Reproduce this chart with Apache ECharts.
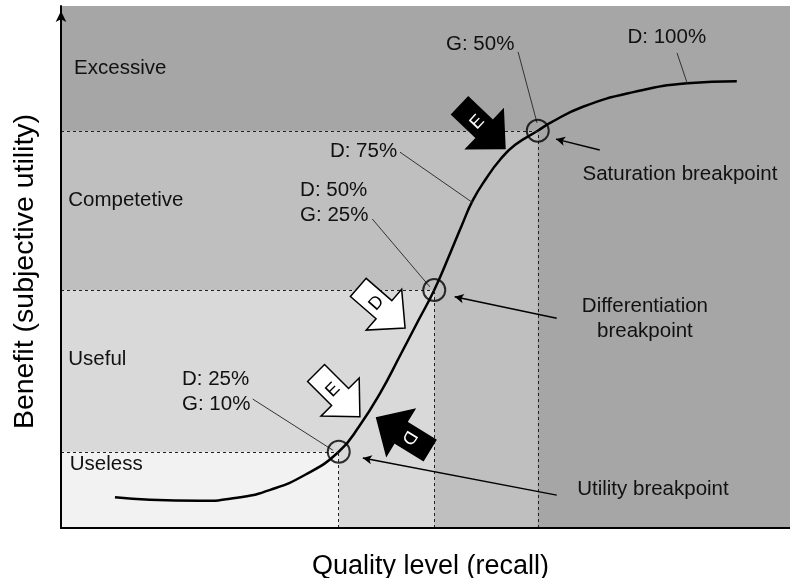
<!DOCTYPE html>
<html>
<head>
<meta charset="utf-8">
<script src="https://cdn.jsdelivr.net/npm/echarts@6/dist/echarts.min.js"></script>
<style>
  html, body { margin: 0; padding: 0; background: #ffffff; }
  #chart { width: 790px; height: 578px; }
</style>
</head>
<body>
<div id="chart"></div>
<script>
// Benefit curve: quality level (x, 0-100) against subjective utility (y, 0-100)
const curveX = [7.4, 12.2, 19.1, 24.6, 28.7, 33.5, 38.1, 41.0, 43.8, 46.5, 49.0, 51.2, 53.4, 54.9, 56.5, 58.3, 60.2, 62.3, 65.4, 67.1, 71.6, 78.5, 85.9, 92.7];
const curveY = [5.9, 5.4, 5.2, 5.9, 7.3, 10.2, 14.6, 19.7, 25.9, 33.0, 39.7, 45.6, 52.7, 57.7, 62.8, 66.9, 70.5, 73.4, 76.1, 77.6, 80.7, 83.5, 85.2, 85.6];

// Breakpoints on the curve: utility, differentiation, saturation
const breakNames = ['Utility breakpoint', 'Differentiation\nbreakpoint', 'Saturation breakpoint'];
const breakX = [38.1, 51.2, 65.4];
const breakY = [14.6, 45.6, 76.1];

// Benefit zones, bottom to top
const zoneNames = ['Useless', 'Useful', 'Competetive', 'Excessive'];
const zoneLabelY = [12.1, 32.4, 62.8, 88.1];

// Coverage callouts (D / G / E)
const calloutTexts = ['D: 25%\nG: 10%', 'D: 50%\nG: 25%', 'D: 75%', 'G: 50%', 'D: 100%'];

const FONT = '"Liberation Sans", Arial, Helvetica, sans-serif';
const zoneColors = ['#f2f2f2', '#d9d9d9', '#bfbfbf', '#a6a6a6'];

// Callout placement (data coordinates): text anchor and leader line to the curve
const calloutLayout = [
  { at: [16.6, 26.0], align: 'left',   from: [26.3, 24.7], to: [37.3, 14.9] },
  { at: [32.8, 62.3], align: 'left',   from: [42.7, 59.2], to: [50.6, 46.2] },
  { at: [41.5, 72.2], align: 'center', from: [46.5, 72.0], to: [56.5, 62.3] },
  { at: [57.5, 92.7], align: 'center', from: [62.7, 91.2], to: [65.3, 77.6] },
  { at: [83.1, 93.9], align: 'center', from: [84.5, 91.0], to: [85.9, 85.2] }
];
// Breakpoint name placement and pointer start
const breakLayout = [
  { at: [81.2, 7.5],  from: [68.0, 6.3],  to: [41.4, 13.4] },
  { at: [80.1, 40.0], from: [68.0, 40.2], to: [54.0, 44.3] },
  { at: [84.9, 67.8], from: [73.9, 72.4], to: [67.9, 74.5] }
];
const zoneLabelX = [1.2, 1.0, 1.0, 1.8];

// Block arrows: tip in data coordinates, heading in degrees (counter-clockwise)
const blockArrows = [
  { letter: 'E', tip: [41.0, 21.3], heading: -45,   dark: false },
  { letter: 'D', tip: [47.2, 38.3], heading: -41,   dark: false },
  { letter: 'E', tip: [60.9, 72.7], heading: -43.5, dark: true },
  { letter: 'D', tip: [43.3, 21.1], heading: 148.6, dark: true }
];

const curveData = curveX.map((x, i) => [x, curveY[i]]);
const breakData = breakX.map((x, i) => [x, breakY[i]]);

// Nested zone rectangles: full plot, then smaller corner blocks on top
const zoneAreas = [];
for (let k = 3; k >= 0; k--) {
  const xr = k === 3 ? 100 : breakX[k];
  const yr = k === 3 ? 100 : breakY[k];
  zoneAreas.push([
    { xAxis: 0, yAxis: 0, itemStyle: { color: zoneColors[k] } },
    { xAxis: xr, yAxis: yr }
  ]);
}

const dashedLines = [];
breakX.forEach((x, i) => {
  dashedLines.push([{ coord: [0, breakY[i]] }, { coord: [x, breakY[i]] }]);
  dashedLines.push([{ coord: [x, 0] }, { coord: [x, breakY[i]] }]);
});

const leaderLines = calloutLayout.map(c => [{ coord: c.from }, { coord: c.to }]);
const pointerLines = breakLayout.map(b => [{ coord: b.from }, { coord: b.to }]);

const chart = echarts.init(document.getElementById('chart'), null, { renderer: 'canvas' });

const option = {
  animation: false,
  backgroundColor: '#ffffff',
  grid: { left: 61, right: 0, top: 6, bottom: 50, outerBoundsMode: 'none', containLabel: false },
  xAxis: {
    type: 'value', min: 0, max: 100, z: 10,
    name: 'Quality level (recall)', nameLocation: 'middle', nameGap: 25,
    nameTextStyle: { fontFamily: FONT, fontSize: 27, color: '#000', padding: [0, 0, 0, 10] },
    axisLine: { show: true, lineStyle: { color: '#000', width: 2 } },
    axisTick: { show: false }, axisLabel: { show: false }, splitLine: { show: false }
  },
  yAxis: {
    type: 'value', min: 0, max: 100, z: 10,
    name: 'Benefit (subjective utility)', nameLocation: 'middle', nameGap: 21,
    nameTextStyle: { fontFamily: FONT, fontSize: 28.5, color: '#000', padding: [0, 9, 0, 0] },
    axisLine: {
      show: true, lineStyle: { color: '#000', width: 2 },
      symbol: ['none', 'arrow'], symbolSize: [8, 11], symbolOffset: [0, -5]
    },
    axisTick: { show: false }, axisLabel: { show: false }, splitLine: { show: false }
  },
  series: [
    {
      name: 'zones', type: 'line', data: [], silent: true, z: 1,
      markArea: { silent: true, data: zoneAreas }
    },
    {
      name: 'guides', type: 'line', data: [], silent: true, z: 2,
      markLine: {
        silent: true, symbol: 'none', label: { show: false },
        lineStyle: { color: '#222', width: 1, type: [3, 3] },
        data: dashedLines
      }
    },
    {
      name: 'leaders', type: 'line', data: [], silent: true, z: 3,
      markLine: {
        silent: true, symbol: 'none', label: { show: false },
        lineStyle: { color: '#333', width: 1, type: 'solid' },
        data: leaderLines
      }
    },
    {
      name: 'pointers', type: 'line', data: [], silent: true, z: 3,
      markLine: {
        silent: true, symbol: ['none', 'arrow'], symbolSize: [7, 9], label: { show: false },
        lineStyle: { color: '#000', width: 1.5, type: 'solid' },
        data: pointerLines
      }
    },
    {
      name: 'benefit', type: 'line', data: curveData, smooth: 0.5,
      showSymbol: false, silent: true, z: 4,
      lineStyle: { color: '#000', width: 2.5 }
    },
    {
      name: 'breakpoints', type: 'scatter', data: breakData, symbol: 'circle', symbolSize: 22,
      silent: true, z: 5,
      itemStyle: { color: 'rgba(0,0,0,0)', borderColor: '#000', borderWidth: 2 }
    }
  ]
};

chart.setOption(option);

const toPx = p => chart.convertToPixel({ gridIndex: 0 }, p);
const graphics = [];

function addText(text, at, align) {
  const p = toPx(at);
  graphics.push({
    type: 'text', x: p[0], y: p[1], z: 100, silent: true,
    style: {
      text: text, fontFamily: FONT, fontSize: 20.5, fill: '#111',
      align: align, verticalAlign: 'middle', lineHeight: 25
    }
  });
}

zoneNames.forEach((n, i) => addText(n, [zoneLabelX[i], zoneLabelY[i]], 'left'));
calloutTexts.forEach((t, i) => addText(t, calloutLayout[i].at, calloutLayout[i].align));
breakNames.forEach((n, i) => addText(n, breakLayout[i].at, 'center'));

// Block arrow outline in a local frame pointing along +x with the tip at the origin
const L = 62, HL = 28, HW = 27, TW = 12;
const arrowPts = [[0, 0], [-HL, -HW], [-HL, -TW], [-L, -TW], [-L, TW], [-HL, TW], [-HL, HW]];

blockArrows.forEach(a => {
  const p = toPx(a.tip);
  graphics.push({
    type: 'group', x: p[0], y: p[1], rotation: a.heading * Math.PI / 180, z: 100, silent: true,
    children: [
      {
        type: 'polygon', z: 100, silent: true,
        shape: { points: arrowPts },
        style: { fill: a.dark ? '#000' : '#fff', stroke: '#000', lineWidth: 1.5, lineJoin: 'miter' }
      },
      {
        type: 'text', x: -38, y: 0, rotation: Math.PI / 2, z: 101, silent: true,
        style: {
          text: a.letter, fontFamily: FONT, fontSize: 18,
          fill: a.dark ? '#fff' : '#000', align: 'center', verticalAlign: 'middle'
        }
      }
    ]
  });
});

chart.setOption({ graphic: graphics });
</script>
</body>
</html>
